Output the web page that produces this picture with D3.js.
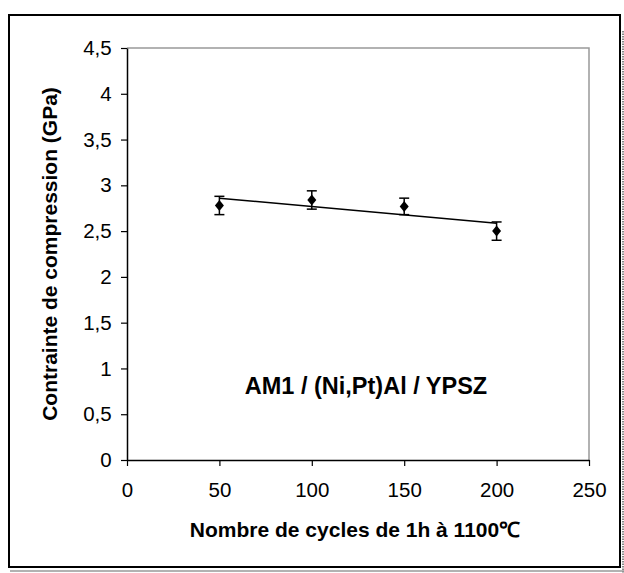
<!DOCTYPE html>
<html><head><meta charset="utf-8">
<script src="https://cdn.jsdelivr.net/npm/d3@7"></script>
<style>body{margin:0;background:#fff;}svg{display:block;font-family:"Liberation Sans",Arial,sans-serif;}</style>
</head><body>
<script>
const cycles = [50, 100, 150, 200];
const stress = [2.78, 2.84, 2.77, 2.50];
const errors = [0.10, 0.10, 0.09, 0.10];
const xTicks = [0, 50, 100, 150, 200, 250];
const yTicks = [0, 0.5, 1, 1.5, 2, 2.5, 3, 3.5, 4, 4.5];
const xTitle = "Nombre de cycles de 1h à 1100℃";
const yTitle = "Contrainte de compression (GPa)";
const annotation = "AM1 / (Ni,Pt)Al / YPSZ";

const W = 624, H = 573;
const svg = d3.select("body").append("svg").attr("width", W).attr("height", H);

// outer frame + shadow
svg.append("line").attr("x1",623).attr("x2",623).attr("y1",31).attr("y2",573)
  .attr("stroke","#888").attr("stroke-width",2).attr("stroke-dasharray","1.5,1");
svg.append("line").attr("x1",10).attr("x2",624).attr("y1",571).attr("y2",571)
  .attr("stroke","#999").attr("stroke-width",1.5);
svg.append("rect").attr("x",9).attr("y",15).attr("width",611).attr("height",552)
  .attr("fill","#fff").attr("stroke","#000").attr("stroke-width",2);

const x = d3.scaleLinear().domain([0,250]).range([127,589]);
const y = d3.scaleLinear().domain([0,4.5]).range([460,48]);

// plot border top/right grey
svg.append("path").attr("d",`M${x(0)},${y(4.5)}H${x(250)}V${y(0)}`)
  .attr("fill","none").attr("stroke","#999").attr("stroke-width",1.5);

const fmt = d => String(d).replace(".", ",");
const xa = svg.append("g").attr("transform",`translate(0,${y(0)})`)
  .call(d3.axisBottom(x).tickValues(xTicks).tickSize(6).tickSizeOuter(0).tickPadding(16.5).tickFormat(fmt));
const ya = svg.append("g").attr("transform",`translate(${x(0)},0)`)
  .call(d3.axisLeft(y).tickValues(yTicks).tickSize(6).tickSizeOuter(0).tickPadding(9.3).tickFormat(fmt));
[xa, ya].forEach(a => {
  a.select(".domain").attr("stroke","#000").attr("stroke-width",1.5);
  a.selectAll(".tick line").attr("stroke","#000").attr("stroke-width",1.2);
  a.selectAll(".tick text").attr("font-size",20.5).attr("fill","#000")
    .attr("font-family","'Liberation Sans',Arial,sans-serif");
});

// trend line (linear regression of the data)
const mx = d3.mean(cycles), my = d3.mean(stress);
const slope = d3.sum(cycles, (c,i) => (c-mx)*(stress[i]-my)) / d3.sum(cycles, c => (c-mx)*(c-mx));
const f = c => my + slope*(c-mx);
const x0 = d3.min(cycles), x1 = d3.max(cycles);
svg.append("line").attr("x1",x(x0)).attr("y1",y(f(x0))).attr("x2",x(x1)).attr("y2",y(f(x1)))
  .attr("stroke","#000").attr("stroke-width",1.5);

// error bars
const data = cycles.map((c,i) => ({c, v: stress[i], e: errors[i]}));
const eb = svg.append("g").attr("stroke","#000").attr("stroke-width",1.5);
data.forEach(d => {
  eb.append("line").attr("x1",x(d.c)).attr("x2",x(d.c)).attr("y1",y(d.v+d.e)).attr("y2",y(d.v-d.e));
  eb.append("line").attr("x1",x(d.c)-5).attr("x2",x(d.c)+5).attr("y1",y(d.v+d.e)).attr("y2",y(d.v+d.e));
  eb.append("line").attr("x1",x(d.c)-5).attr("x2",x(d.c)+5).attr("y1",y(d.v-d.e)).attr("y2",y(d.v-d.e));
});
// markers
svg.append("g").selectAll("path").data(data).join("path")
  .attr("transform", d => `translate(${x(d.c)},${y(d.v)})`)
  .attr("d", "M0,-5.5L4.5,0L0,5.5L-4.5,0Z").attr("fill","#000");

// titles
svg.append("text").attr("x",355).attr("y",537).attr("text-anchor","middle")
  .attr("font-size",21).attr("font-weight","bold").text(xTitle);
svg.append("text").attr("transform","translate(57,254) rotate(-90)").attr("text-anchor","middle")
  .attr("font-size",21).attr("font-weight","bold").text(yTitle);
svg.append("text").attr("x",366).attr("y",394).attr("text-anchor","middle")
  .attr("font-size",23.5).attr("font-weight","bold").text(annotation);
</script>
</body></html>
